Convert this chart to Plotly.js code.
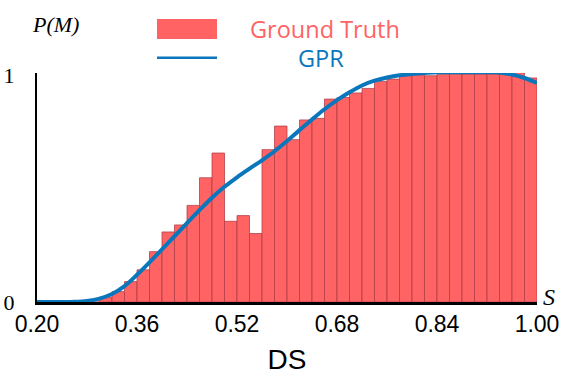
<!DOCTYPE html>
<html>
<head>
<meta charset="utf-8">
<script src="https://cdn.plot.ly/plotly-3.0.1.min.js"></script>
<style>html,body{margin:0;padding:0;background:#fff;}#chart{width:566px;height:380px;}</style>
</head>
<body>
<div id="chart"></div>
<script>
// Histogram bins (centers) of width 0.02 from 0.20 to 1.00
const binCenters = [0.21,0.23,0.25,0.27,0.29,0.31,0.33,0.35,0.37,0.39,
                    0.41,0.43,0.45,0.47,0.49,0.51,0.53,0.55,0.57,0.59,
                    0.61,0.63,0.65,0.67,0.69,0.71,0.73,0.75,0.77,0.79,
                    0.81,0.83,0.85,0.87,0.89,0.91,0.93,0.95,0.97,0.99];
const groundTruth = [0,0,0,0,0,0.021,0.046,0.090,0.142,0.222,
                     0.309,0.340,0.426,0.548,0.657,0.356,0.381,0.302,0.672,0.776,
                     0.716,0.803,0.810,0.895,0.902,0.922,0.942,0.973,0.983,0.996,
                     1.000,0.998,1.005,1.005,1.006,1.006,1.006,1.013,1.013,0.988];
// GPR fit curve
const gprX = [0.20,0.24,0.26,0.28,0.30,0.32,0.34,0.36,0.38,0.40,
              0.42,0.44,0.46,0.48,0.50,0.52,0.54,0.56,0.58,0.60,
              0.62,0.64,0.66,0.68,0.70,0.72,0.74,0.76,0.78,0.80,
              0.82,0.84,0.86,0.88,0.90,0.92,0.94,0.96,0.98,1.00];
const gprY = [0,0,0.001,0.005,0.015,0.035,0.070,0.120,0.175,0.232,
              0.290,0.348,0.405,0.460,0.508,0.550,0.588,0.625,0.665,0.710,
              0.758,0.805,0.850,0.890,0.925,0.955,0.976,0.990,1.000,1.006,
              1.010,1.013,1.013,1.013,1.013,1.013,1.012,1.003,0.988,0.966];
const xTickVals = [0.20,0.36,0.52,0.68,0.84,1.00];
const xTickText = ['0.20','0.36','0.52','0.68','0.84','1.00'];
const yTickVals = [0,1];
const yTickText = ['0','1'];

const W = 566, H = 380;
const M = {l:37, r:29, t:73, b:78};
const PW = W - M.l - M.r, PH = H - M.t - M.b;
const px = v => (v - M.l) / PW;
const py = v => (M.t + PH - v) / PH;

const RED = '#FF6363';
const BLUE = '#0A77BD';

const traces = [
  {
    type: 'bar', x: binCenters, y: groundTruth, width: 0.02,
    marker: {color: RED, line: {color: 'rgba(175,60,70,0.75)', width: 1}},
    showlegend: false, hoverinfo: 'skip'
  },
  {
    type: 'scatter', mode: 'lines', x: gprX, y: gprY,
    line: {color: BLUE, width: 4, shape: 'spline', smoothing: 1},
    cliponaxis: false, showlegend: false, hoverinfo: 'skip'
  }
];

const layout = {
  width: W, height: H,
  margin: M,
  paper_bgcolor: '#fff', plot_bgcolor: '#fff',
  bargap: 0,
  showlegend: false,
  xaxis: {
    range: [0.2, 1.0], tickvals: xTickVals, ticktext: xTickText,
    showgrid: false, zeroline: false, showline: true, linecolor: '#000', linewidth: 2.5,
    ticks: '', ticklabelstandoff: 0,
    tickfont: {family: 'Liberation Sans, Arial, sans-serif', size: 23, color: '#000'},
    title: {text: 'DS', font: {family: 'Liberation Sans, Arial, sans-serif', size: 28, color: '#000'}, standoff: 14},
    layer: 'below traces', fixedrange: true
  },
  yaxis: {
    range: [0, 1.01], tickvals: yTickVals, ticktext: yTickText,
    showgrid: false, zeroline: false, showline: true, linecolor: '#000', linewidth: 2,
    ticks: '', ticklabelstandoff: 16,
    tickfont: {family: 'Liberation Serif, Times New Roman, serif', size: 22, color: '#000'},
    layer: 'below traces', fixedrange: true
  },
  shapes: [
    {type: 'rect', xref: 'paper', yref: 'paper', x0: px(157), x1: px(217), y0: py(39), y1: py(19),
     fillcolor: RED, line: {width: 0}},
    {type: 'line', xref: 'paper', yref: 'paper', x0: px(157), x1: px(217), y0: py(57.7), y1: py(57.7),
     line: {color: BLUE, width: 2.5}}
  ],
  annotations: [
    {xref: 'paper', yref: 'paper', x: px(324.5), y: py(28.5), xanchor: 'center', yanchor: 'middle',
     text: 'Ground Truth', showarrow: false, height: 26, borderpad: 0,
     font: {family: 'Open Sans, Noto Sans, sans-serif', size: 23.5, color: RED}},
    {xref: 'paper', yref: 'paper', x: px(321), y: py(58), xanchor: 'center', yanchor: 'middle',
     text: 'GPR', showarrow: false, height: 26, borderpad: 0,
     font: {family: 'Open Sans, Noto Sans, sans-serif', size: 23.5, color: BLUE}},
    {xref: 'paper', yref: 'paper', x: px(55), y: py(25), xanchor: 'center', yanchor: 'middle',
     text: '<i>P(M)</i>', showarrow: false,
     font: {family: 'Liberation Serif, Times New Roman, serif', size: 22, color: '#000'}},
    {xref: 'paper', yref: 'paper', x: px(549), y: py(297), xanchor: 'center', yanchor: 'middle',
     text: '<i>S</i>', showarrow: false,
     font: {family: 'Liberation Serif, Times New Roman, serif', size: 24, color: '#000'}}
  ]
};

Plotly.newPlot('chart', traces, layout, {staticPlot: true, displayModeBar: false});
</script>
</body>
</html>
